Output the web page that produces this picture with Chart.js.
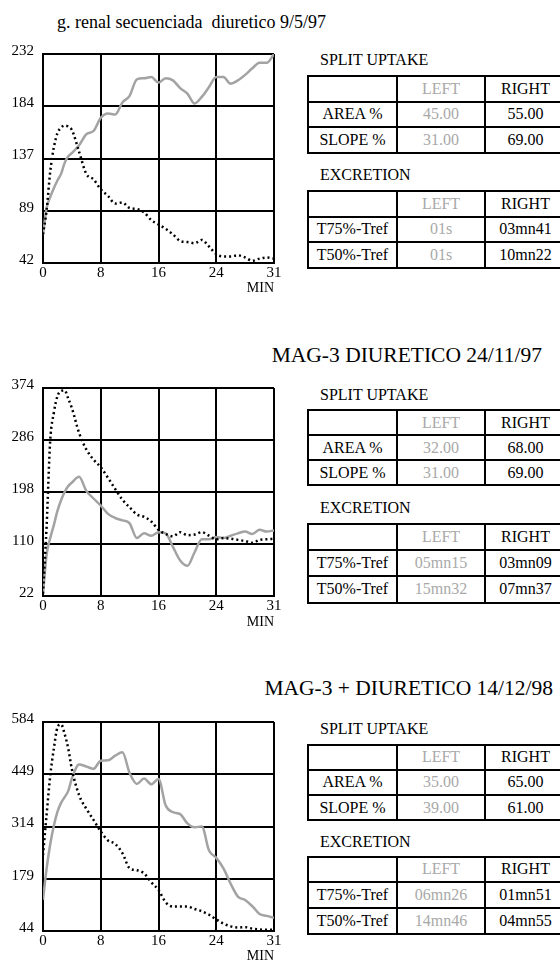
<!DOCTYPE html>
<html>
<head>
<meta charset="utf-8">
<script src="https://cdn.jsdelivr.net/npm/chart.js@4/dist/chart.umd.min.js"></script>
<style>
  html, body { margin: 0; padding: 0; background: #fff; }
  body { width: 560px; height: 960px; position: relative; overflow: hidden;
         font-family: "Liberation Serif", Tinos, "Times New Roman", serif; color: #000; }
  canvas.cv { position: absolute; left: 0; }
  .title { position: absolute; white-space: nowrap; line-height: 1; }
  .head { position: absolute; font-size: 16px; line-height: 1; white-space: nowrap; }
  .tbl { position: absolute; left: 307px; width: 256px; display: grid;
         grid-template-columns: 87px 86px 1fr; gap: 2px; background: #000; padding: 2px; }
  .tbl div { background: #fff; display: flex; align-items: center; justify-content: center;
             font-size: 16px; line-height: 1; white-space: nowrap; }
  .tbl div.l { color: #a9a9a9; }
</style>
</head>
<body>

<div class="title" id="t1" style="left:57px;top:13px;font-size:18px;">g. renal secuenciada&nbsp; diuretico 9/5/97</div>
<div class="title" id="t2" style="right:18px;top:344.7px;font-size:21.5px;">MAG-3 DIURETICO 24/11/97</div>
<div class="title" id="t3" style="right:7px;top:678px;font-size:21.5px;">MAG-3 + DIURETICO 14/12/98</div>

<canvas class="cv" id="c1" width="300" height="264" style="top:36px"></canvas>
<canvas class="cv" id="c2" width="300" height="264" style="top:370px"></canvas>
<canvas class="cv" id="c3" width="300" height="264" style="top:704px"></canvas>

<div id="tables"></div>

<script>
// Time axis (minutes) shared by all renograms; the right edge of the plot is the 32 mark, labelled "31"
const minutes = [0, 0.5, 1, 1.5, 2, 2.5, 3, 3.5, 4,
  5, 6, 7, 8, 9, 10, 11, 12, 13, 14, 15, 16, 17, 18, 19, 20,
  21, 22, 23, 24, 25, 26, 27, 28, 29, 30, 31, 32];
const xTickPos = [0, 8, 16, 24, 32];
const xTickLabels = ["0", "8", "16", "24", "31"];

// Study 1: g. renal secuenciada diuretico 9/5/97
const s1Left  = [68, 92, 102, 110, 117, 123, 133, 139, 142,
  149, 159, 162, 174, 178, 177, 188, 194, 209, 210, 211, 206, 210, 208, 201, 196,
  187, 193, 202, 211, 211, 205, 208, 213, 219, 224, 224, 232];
const s1Right = [68, 90, 125, 147, 160, 165, 167, 166, 163,
  143, 123, 118, 109, 103, 96, 97, 92, 91, 88, 81, 77, 73, 68, 62, 61,
  60, 63, 57, 50, 48, 48, 49, 47, 44, 46, 47, 46];
const s1YLabels = ["42", "89", "137", "184", "232"];

// Study 2: MAG-3 DIURETICO 24/11/97
const s2Left  = [26, 92, 120, 142, 166, 184, 198, 208, 214,
  224, 200, 187, 175, 161, 154, 150, 145, 120, 128, 124, 130, 128, 105, 82, 73,
  96, 118, 118, 122, 120, 124, 128, 131, 127, 134, 131, 133];
const s2Right = [26, 140, 285, 332, 360, 369, 370, 356, 340,
  298, 270, 253, 240, 222, 203, 185, 172, 160, 156, 148, 134, 127, 123, 130, 125,
  126, 130, 124, 118, 120, 119, 117, 115, 112, 117, 118, 119];
const s2YLabels = ["22", "110", "198", "286", "374"];

// Study 3: MAG-3 + DIURETICO 14/12/98
const s3Left  = [125, 205, 268, 316, 352, 375, 390, 406, 438,
  474, 469, 463, 484, 485, 497, 506, 452, 424, 438, 423, 437, 368, 351, 346, 322,
  312, 314, 252, 233, 206, 166, 133, 124, 108, 88, 83, 78];
const s3Right = [240, 345, 445, 515, 570, 578, 553, 515, 462,
  395, 360, 331, 301, 278, 269, 245, 206, 201, 193, 170, 150, 118, 107, 107, 107,
  101, 95, 86, 74, 63, 56, 53, 54, 50, 48, 47, 47];
const s3YLabels = ["44", "179", "314", "449", "584"];

// Split function tables
const colHeads = ["", "LEFT", "RIGHT"];
const s1Uptake = [["AREA %", "45.00", "55.00"], ["SLOPE %", "31.00", "69.00"]];
const s1Excr   = [["T75%-Tref", "01s", "03mn41"], ["T50%-Tref", "01s", "10mn22"]];
const s2Uptake = [["AREA %", "32.00", "68.00"], ["SLOPE %", "31.00", "69.00"]];
const s2Excr   = [["T75%-Tref", "05mn15", "03mn09"], ["T50%-Tref", "15mn32", "07mn37"]];
const s3Uptake = [["AREA %", "35.00", "65.00"], ["SLOPE %", "39.00", "61.00"]];
const s3Excr   = [["T75%-Tref", "06mn26", "01mn51"], ["T50%-Tref", "14mn46", "04mn55"]];

const FONT = '"Liberation Serif", Tinos, "Times New Roman", serif';

function renogram(canvasId, leftVals, rightVals, yLabels, axisHeight) {
  const yMin = Number(yLabels[0]);
  const yMax = Number(yLabels[yLabels.length - 1]);
  const step = (yMax - yMin) / (yLabels.length - 1);
  const pts = vals => minutes.map((t, i) => ({ x: t, y: vals[i] }));
  new Chart(document.getElementById(canvasId), {
    type: 'line',
    data: {
      datasets: [
        { label: 'RIGHT', data: pts(rightVals), borderColor: '#000', borderWidth: 2.5,
          borderDash: [2, 3], pointRadius: 0, cubicInterpolationMode: 'monotone', fill: false, order: 0 },
        { label: 'LEFT', data: pts(leftVals), borderColor: '#a3a3a3', borderWidth: 2.5,
          pointRadius: 0, cubicInterpolationMode: 'monotone', fill: false, order: 1 }
      ]
    },
    options: {
      responsive: false, animation: false, events: [],
      layout: { padding: { top: 14, right: 26, left: 0, bottom: 0 } },
      plugins: { legend: { display: false }, tooltip: { enabled: false } },
      scales: {
        x: {
          type: 'linear', min: 0, max: 32,
          afterBuildTicks: s => { s.ticks = xTickPos.map(v => ({ value: v })); },
          afterFit: s => { s.height = axisHeight; },
          grid: { color: '#000', lineWidth: 2, drawTicks: false },
          border: { color: '#000', width: 2 },
          ticks: { callback: (v, i) => xTickLabels[i], font: { family: FONT, size: 15 },
                   color: '#000', padding: 1, maxRotation: 0, autoSkip: false },
          title: { display: true, text: 'MIN', align: 'end', font: { family: FONT, size: 14 },
                   color: '#000', padding: { top: 0, bottom: 3 } }
        },
        y: {
          type: 'linear', min: yMin, max: yMax,
          afterBuildTicks: s => { s.ticks = yLabels.map((_, i) => ({ value: yMin + i * step })); },
          afterFit: s => { s.width = 43; },
          grid: { color: '#000', lineWidth: 2, drawTicks: false },
          border: { color: '#000', width: 2 },
          ticks: { callback: (v, i) => yLabels[i], font: { family: FONT, size: 15 },
                   color: '#000', padding: 9, labelOffset: -3, autoSkip: false }
        }
      }
    }
  });
}

function drawAll() {
  renogram('c1', s1Left, s1Right, s1YLabels, 37);
  renogram('c2', s2Left, s2Right, s2YLabels, 38);
  renogram('c3', s3Left, s3Right, s3YLabels, 37);
}

// Headings and tables beside each renogram
function heading(text, top) {
  const d = document.createElement('div');
  d.className = 'head';
  d.style.left = '320px';
  d.style.top = top + 'px';
  d.textContent = text;
  document.getElementById('tables').appendChild(d);
}
function table(rows, top, pitch) {
  const g = document.createElement('div');
  g.className = 'tbl';
  g.style.top = top + 'px';
  g.style.gridAutoRows = (pitch - 2) + 'px';
  [colHeads].concat(rows).forEach(r => {
    r.forEach((txt, j) => {
      const c = document.createElement('div');
      if (j === 1) c.className = 'l';
      c.textContent = txt;
      g.appendChild(c);
    });
  });
  document.getElementById('tables').appendChild(g);
}

heading('SPLIT UPTAKE', 52.3);  table(s1Uptake, 75, 25.5);
heading('EXCRETION', 166.6);    table(s1Excr, 190, 25.5);
heading('SPLIT UPTAKE', 386.6); table(s2Uptake, 409, 25);
heading('EXCRETION', 499.6);    table(s2Excr, 523, 26.2);
heading('SPLIT UPTAKE', 720.6); table(s3Uptake, 743.5, 25.3);
heading('EXCRETION', 834);      table(s3Excr, 855.5, 25.7);

// Make sure the serif face is ready before the canvases draw text
if (document.fonts && document.fonts.load) {
  document.fonts.load('15px "Liberation Serif"').then(drawAll, drawAll);
} else {
  drawAll();
}
</script>
</body>
</html>
